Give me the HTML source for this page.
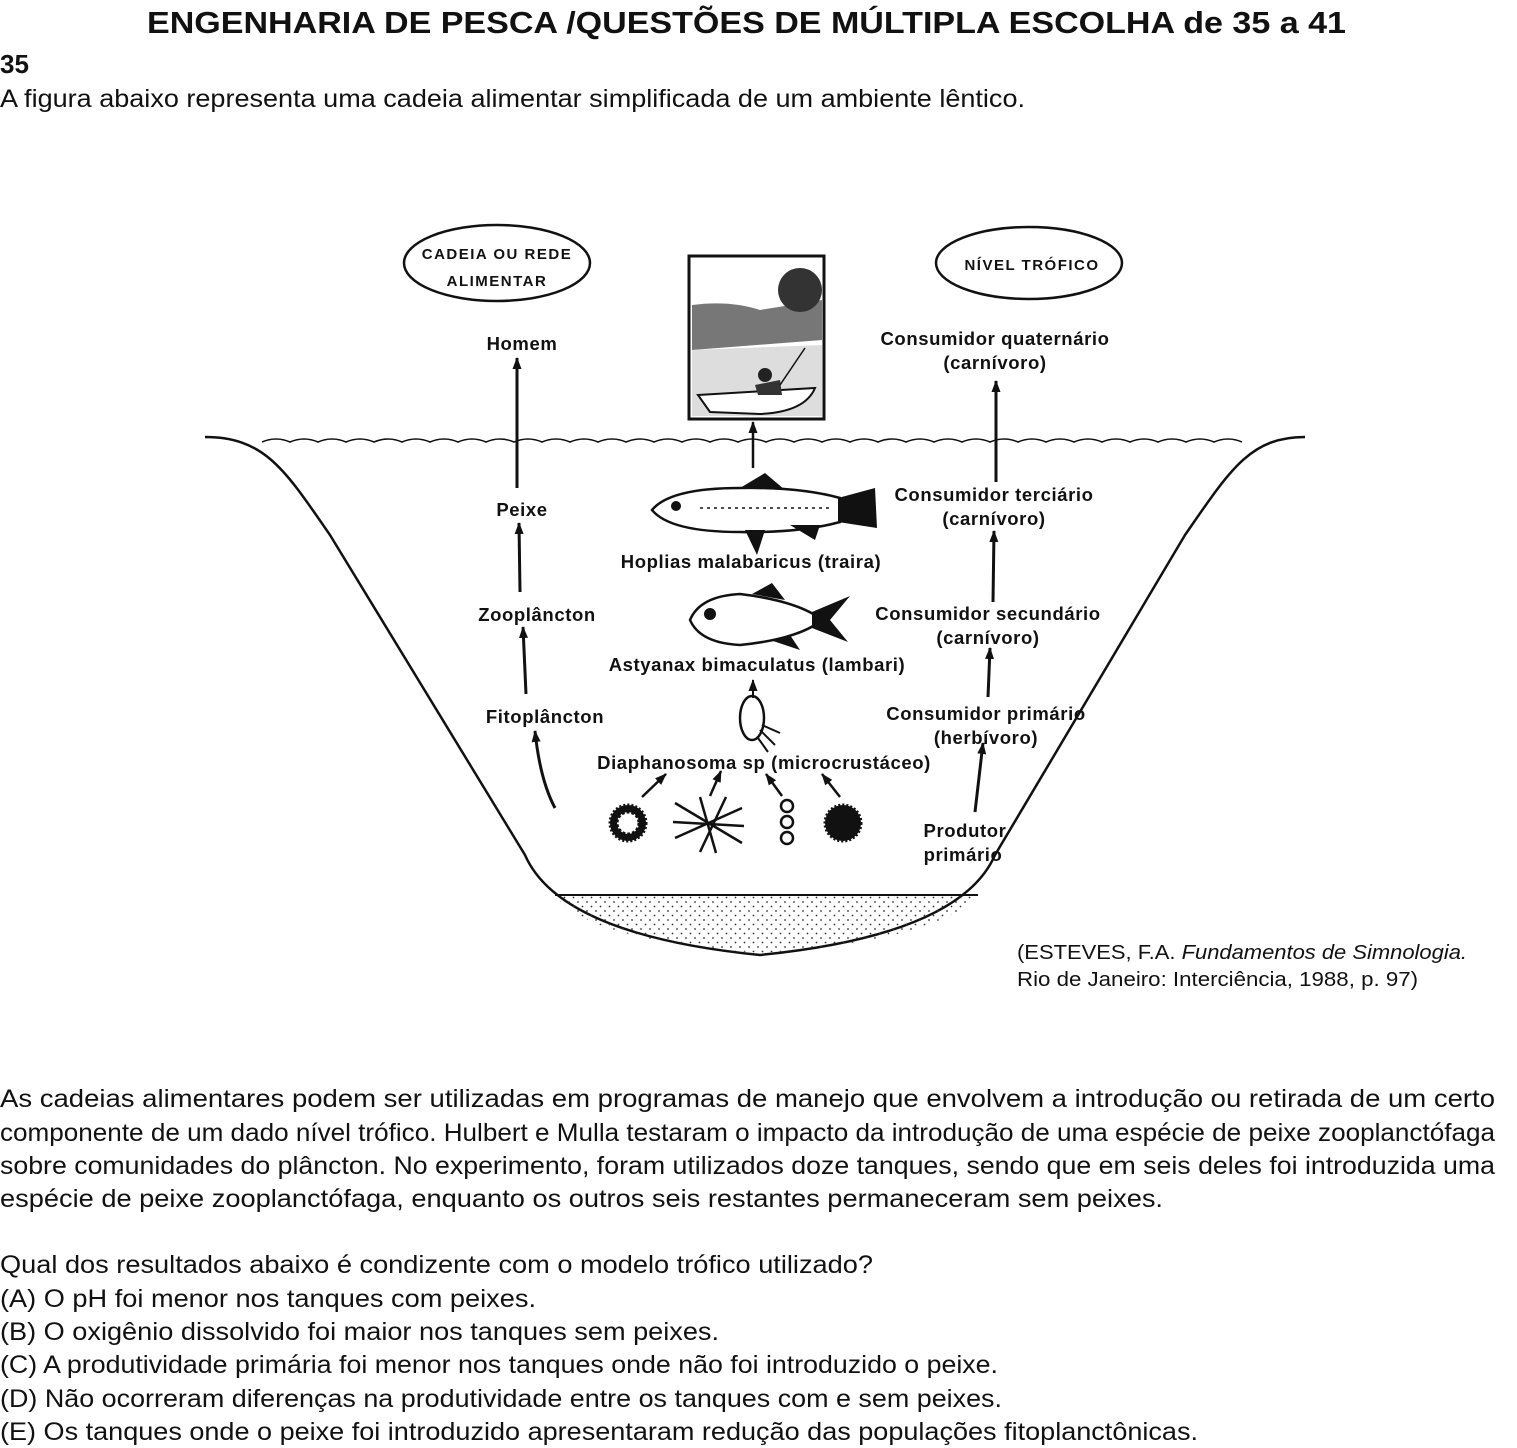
<!DOCTYPE html>
<html><head><meta charset="utf-8"><style>
html,body{margin:0;padding:0;background:#fff;width:1517px;height:1448px;overflow:hidden}
svg{display:block}
.b{font-family:"Liberation Sans",sans-serif;fill:#111}
.lb{font-family:"Liberation Sans",sans-serif;font-weight:bold;font-size:18.5px;fill:#111;letter-spacing:0.6px}
.el{font-family:"Liberation Sans",sans-serif;font-weight:bold;font-size:15px;fill:#111;letter-spacing:1.5px}
</style></head><body>
<svg width="1517" height="1448" viewBox="0 0 1517 1448" xmlns="http://www.w3.org/2000/svg">
<defs>
<marker id="ah" markerWidth="12" markerHeight="9" refX="11" refY="4.5" orient="auto" markerUnits="userSpaceOnUse" viewBox="0 0 12 9"><path d="M0,0 L12,4.5 L0,9 Z" fill="#111"/></marker>
<pattern id="dots" width="9" height="9" patternUnits="userSpaceOnUse"><circle cx="2" cy="2" r="0.9" fill="#333"/><circle cx="6.5" cy="6.5" r="0.9" fill="#333"/></pattern>
</defs>
<text class="b" x="147" y="33" font-size="31" font-weight="bold" textLength="1199" lengthAdjust="spacingAndGlyphs">ENGENHARIA DE PESCA /QUESTÕES DE MÚLTIPLA ESCOLHA de 35 a 41</text>
<text class="b" x="0" y="73" font-size="26" font-weight="bold">35</text>
<text class="b" x="0" y="107" font-size="25" textLength="1025" lengthAdjust="spacingAndGlyphs">A figura abaixo representa uma cadeia alimentar simplificada de um ambiente lêntico.</text>

<!-- basin -->
<path d="M205,437 C265,437 285,470 330,535 L525,855 Q560,935 760,955 Q960,935 995,855 L1185,535 C1230,470 1250,437 1305,437" fill="none" stroke="#111" stroke-width="2.5"/>
<path d="M555,895 L978,895 Q940,940 760,953 Q585,940 555,895 Z" fill="url(#dots)" stroke="none"/>
<line x1="555" y1="895" x2="978" y2="895" stroke="#111" stroke-width="2"/>
<path d="M262,442 q14,-6 28,0 q14,-6 28,0 q14,-6 28,0 q14,-6 28,0 q14,-6 28,0 q14,-6 28,0 q14,-6 28,0 q14,-6 28,0 q14,-6 28,0 q14,-6 28,0 q14,-6 28,0 q14,-6 28,0 q14,-6 28,0 q14,-6 28,0 q14,-6 28,0 q14,-6 28,0 q14,-6 28,0 q14,-6 28,0 q14,-6 28,0 q14,-6 28,0 q14,-6 28,0 q14,-6 28,0 q14,-6 28,0 q14,-6 28,0 q14,-6 28,0 q14,-6 28,0 q14,-6 28,0 q14,-6 28,0 q14,-6 28,0 q14,-6 28,0 q14,-6 28,0 q14,-6 28,0 q14,-6 28,0 q14,-6 28,0 q14,-6 28,0" fill="none" stroke="#111" stroke-width="1.5"/>

<ellipse cx="497" cy="263" rx="93" ry="38" fill="none" stroke="#111" stroke-width="2.5"/>
<text class="el" x="497" y="259" text-anchor="middle">CADEIA OU REDE</text>
<text class="el" x="497" y="286" text-anchor="middle">ALIMENTAR</text>
<ellipse cx="1029" cy="263" rx="93" ry="36" fill="none" stroke="#111" stroke-width="2.5"/>
<text class="el" x="1032" y="270" text-anchor="middle">NÍVEL TRÓFICO</text>

<text class="lb" x="522" y="350" text-anchor="middle">Homem</text>
<text class="lb" x="522" y="516" text-anchor="middle">Peixe</text>
<text class="lb" x="537" y="621" text-anchor="middle">Zooplâncton</text>
<text class="lb" x="545" y="723" text-anchor="middle">Fitoplâncton</text>
<g stroke="#111" stroke-width="3" fill="none">
<line x1="517" y1="488" x2="517" y2="358" marker-end="url(#ah)"/>
<line x1="520" y1="592" x2="519" y2="523" marker-end="url(#ah)"/>
<line x1="526" y1="694" x2="523" y2="627" marker-end="url(#ah)"/>
<path d="M555,808 Q540,780 535,731" marker-end="url(#ah)"/>
</g>

<text class="lb" x="995" y="345" text-anchor="middle">Consumidor quaternário</text>
<text class="lb" x="995" y="369" text-anchor="middle">(carnívoro)</text>
<text class="lb" x="994" y="501" text-anchor="middle">Consumidor terciário</text>
<text class="lb" x="994" y="525" text-anchor="middle">(carnívoro)</text>
<text class="lb" x="988" y="620" text-anchor="middle">Consumidor secundário</text>
<text class="lb" x="988" y="644" text-anchor="middle">(carnívoro)</text>
<text class="lb" x="986" y="720" text-anchor="middle">Consumidor primário</text>
<text class="lb" x="986" y="744" text-anchor="middle">(herbívoro)</text>
<text class="lb" x="965" y="837" text-anchor="middle">Produtor</text>
<text class="lb" x="963" y="861" text-anchor="middle">primário</text>
<g stroke="#111" stroke-width="3" fill="none">
<line x1="996" y1="482" x2="996" y2="381" marker-end="url(#ah)"/>
<line x1="993" y1="602" x2="994" y2="531" marker-end="url(#ah)"/>
<line x1="988" y1="697" x2="990" y2="648" marker-end="url(#ah)"/>
<line x1="975" y1="812" x2="983" y2="743" marker-end="url(#ah)"/>
</g>

<rect x="689" y="256" width="135" height="163" fill="#fff" stroke="#111" stroke-width="3"/>
<path d="M692,305 Q730,300 760,310 L822,300 L822,340 L692,350 Z" fill="#777"/>
<circle cx="800" cy="290" r="22" fill="#333"/>
<path d="M692,350 L822,345 L822,416 L692,416 Z" fill="#ddd"/>
<path d="M698,395 L815,388 Q805,412 760,414 L710,412 Z" fill="#fff" stroke="#111" stroke-width="2"/>
<circle cx="765" cy="375" r="7" fill="#222"/><path d="M755,385 L780,380 L782,395 L758,395 Z" fill="#333"/>
<line x1="780" y1="385" x2="805" y2="348" stroke="#111" stroke-width="1.5"/>
<line x1="753" y1="468" x2="753" y2="422" stroke="#111" stroke-width="2.5" marker-end="url(#ah)"/>

<path d="M652,510 Q670,488 740,488 Q800,487 840,498 L840,522 Q800,533 740,532 Q670,532 652,510 Z" fill="#fff" stroke="#111" stroke-width="2.5"/>
<path d="M838,498 L875,488 L877,528 L838,522 Z" fill="#111"/>
<path d="M740,488 L765,473 L785,490 Z" fill="#111"/>
<path d="M790,525 L815,540 L820,525 Z" fill="#111"/>
<path d="M745,530 L757,555 L765,530 Z" fill="#111"/>
<circle cx="676" cy="506" r="5" fill="#111"/>
<line x1="700" y1="508" x2="830" y2="508" stroke="#111" stroke-width="1.5" stroke-dasharray="3,4"/>
<text class="lb" x="751" y="568" text-anchor="middle">Hoplias malabaricus (traira)</text>

<path d="M690,620 Q700,596 740,594 Q790,600 815,615 L815,625 Q790,640 740,645 Q700,643 690,620 Z" fill="#fff" stroke="#111" stroke-width="2.5"/>
<path d="M812,612 L850,596 L830,620 L848,642 L812,628 Z" fill="#111"/>
<path d="M752,594 L772,583 L785,600 Z" fill="#111"/>
<path d="M770,640 L800,650 L790,635 Z" fill="#111"/>
<circle cx="710" cy="614" r="6" fill="#111"/>
<text class="lb" x="757" y="671" text-anchor="middle">Astyanax bimaculatus (lambari)</text>

<ellipse cx="752" cy="718" rx="12" ry="22" fill="#fff" stroke="#111" stroke-width="2.5"/>
<path d="M760,730 l15,15 M762,725 l18,8 M758,738 l10,14" stroke="#111" stroke-width="2"/>
<line x1="753" y1="698" x2="753" y2="680" stroke="#111" stroke-width="2" marker-end="url(#ah)"/>
<text class="lb" x="764" y="769" text-anchor="middle">Diaphanosoma sp (microcrustáceo)</text>

<g stroke="#111" stroke-width="2.5">
<line x1="642" y1="797" x2="666" y2="774" marker-end="url(#ah)"/>
<line x1="710" y1="796" x2="721" y2="771" marker-end="url(#ah)"/>
<line x1="782" y1="796" x2="766" y2="774" marker-end="url(#ah)"/>
<line x1="840" y1="797" x2="822" y2="774" marker-end="url(#ah)"/>
</g>
<circle cx="628" cy="823" r="18" fill="#111" stroke="#111" stroke-width="3" stroke-dasharray="2,2"/>
<circle cx="628" cy="823" r="11" fill="#fff" stroke="#111" stroke-width="3" stroke-dasharray="3,2"/>
<g stroke="#111" stroke-width="2.5">
<line x1="675" y1="803" x2="742" y2="843"/><line x1="675" y1="838" x2="742" y2="808"/>
<line x1="700" y1="797" x2="716" y2="853"/><line x1="726" y1="797" x2="700" y2="852"/>
<line x1="673" y1="822" x2="744" y2="826"/>
</g>
<g fill="#fff" stroke="#111" stroke-width="2.5"><circle cx="787" cy="806" r="6"/><circle cx="787" cy="822" r="6"/><circle cx="787" cy="838" r="6"/></g>
<circle cx="843" cy="823" r="18" fill="#111" stroke="#111" stroke-width="3" stroke-dasharray="2,2"/>

<text class="b" x="1017" y="959" font-size="20" textLength="450" lengthAdjust="spacingAndGlyphs">(ESTEVES, F.A. <tspan font-style="italic">Fundamentos de Simnologia.</tspan></text>
<text class="b" x="1017" y="986" font-size="20" textLength="401" lengthAdjust="spacingAndGlyphs">Rio de Janeiro: Interciência, 1988, p. 97)</text>

<g class="b" font-size="25">
<text x="0" y="1107" textLength="1495" lengthAdjust="spacingAndGlyphs">As cadeias alimentares podem ser utilizadas em programas de manejo que envolvem a introdução ou retirada de um certo</text>
<text x="0" y="1141" textLength="1495" lengthAdjust="spacingAndGlyphs">componente de um dado nível trófico. Hulbert e Mulla testaram o impacto da introdução de uma espécie de peixe zooplanctófaga</text>
<text x="0" y="1174" textLength="1495" lengthAdjust="spacingAndGlyphs">sobre comunidades do plâncton. No experimento, foram utilizados doze tanques, sendo que em seis deles foi introduzida uma</text>
<text x="0" y="1207" textLength="1163" lengthAdjust="spacingAndGlyphs">espécie de peixe zooplanctófaga, enquanto os outros seis restantes permaneceram sem peixes.</text>
<text x="0" y="1273" textLength="873" lengthAdjust="spacingAndGlyphs">Qual dos resultados abaixo é condizente com o modelo trófico utilizado?</text>
<text x="0" y="1307" textLength="536" lengthAdjust="spacingAndGlyphs">(A) O pH foi menor nos tanques com peixes.</text>
<text x="0" y="1340" textLength="719" lengthAdjust="spacingAndGlyphs">(B) O oxigênio dissolvido foi maior nos tanques sem peixes.</text>
<text x="0" y="1373" textLength="998" lengthAdjust="spacingAndGlyphs">(C) A produtividade primária foi menor nos tanques onde não foi introduzido o peixe.</text>
<text x="0" y="1407" textLength="1002" lengthAdjust="spacingAndGlyphs">(D) Não ocorreram diferenças na produtividade entre os tanques com e sem peixes.</text>
<text x="0" y="1440" textLength="1198" lengthAdjust="spacingAndGlyphs">(E) Os tanques onde o peixe foi introduzido apresentaram redução das populações fitoplanctônicas.</text>
</g>
</svg>
</body></html>
